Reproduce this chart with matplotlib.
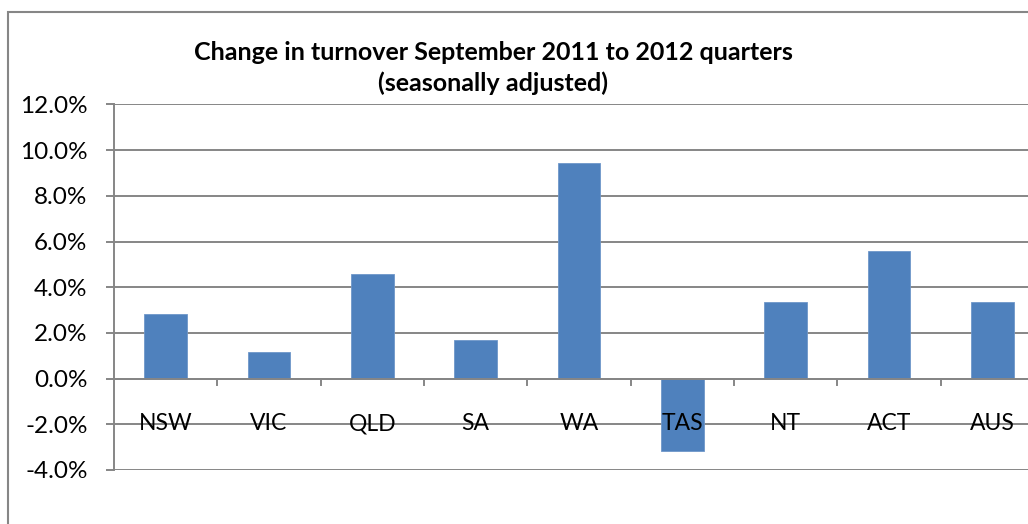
import matplotlib
matplotlib.use("Agg")
import matplotlib.pyplot as plt
from matplotlib.patches import Rectangle
from matplotlib.ticker import FixedLocator, FuncFormatter

plt.rcParams['font.family'] = ['Lato', 'DejaVu Sans']

# values (% change)
states = ["NSW", "VIC", "QLD", "SA", "WA", "TAS", "NT", "ACT", "AUS"]
change = [2.83, 1.17, 4.58, 1.69, 9.42, -3.16, 3.36, 5.57, 3.36]
yticks = [-4, -2, 0, 2, 4, 6, 8, 10, 12]

title = "Change in turnover September 2011 to 2012 quarters\n(seasonally adjusted)"
bar_color = "#4F81BD"
grid_color = "#868686"

W, H = 1028, 524
fig = plt.figure(figsize=(W / 100, H / 100), dpi=100)

# plot area in pixels (right edge runs past the picture, as in the reference)
left, right, top, bottom = 114, 1044, 104.4, 470
ax = fig.add_axes([left / W, 1 - bottom / H, (right - left) / W, (bottom - top) / H])

x = list(range(len(states)))
ax.bar(x, change, width=0.41, color=bar_color, edgecolor="#6F97C9", linewidth=0.6, zorder=3)

ax.set_xlim(-0.5, len(states) - 0.5)
ax.set_ylim(-4, 12)
ax.yaxis.set_major_locator(FixedLocator(yticks))
ax.yaxis.set_major_formatter(FuncFormatter(lambda v, p: "%.1f%%" % v))
ax.grid(axis="y", color=grid_color, linewidth=1.4, zorder=0)

for s in ["top", "right", "bottom"]:
    ax.spines[s].set_visible(False)
ax.spines["left"].set_color(grid_color)
ax.spines["left"].set_linewidth(1.4)

# category axis sits at zero
ax.axhline(0, color=grid_color, linewidth=1.4, zorder=4)
ax.set_xticks([i + 0.5 for i in x[:-1]])
ax.set_xticklabels([])
ax.tick_params(axis="x", length=0)
for i in x[:-1]:
    ax.plot([i + 0.5, i + 0.5], [0, -0.28], color=grid_color, linewidth=1.4, zorder=4, clip_on=False)
for i, s in enumerate(states):
    ax.text(i, -1.98, s, ha="center", va="center", fontsize=16.5, color="black", zorder=5)

ax.tick_params(axis="y", length=6, width=1.4, color=grid_color, labelsize=17.5, pad=13)

fig.text(493 / W, 1 - 68 / H, title, ha="center", va="center", fontsize=18,
         fontweight="bold", linespacing=1.35)

# outer chart border
fig.patches.append(Rectangle((8 / W, -0.1), 1.1, 1 - 12 / H + 0.1, transform=fig.transFigure,
                             fill=False, edgecolor=grid_color, linewidth=1.5))

fig.savefig("out.png", dpi=100)
